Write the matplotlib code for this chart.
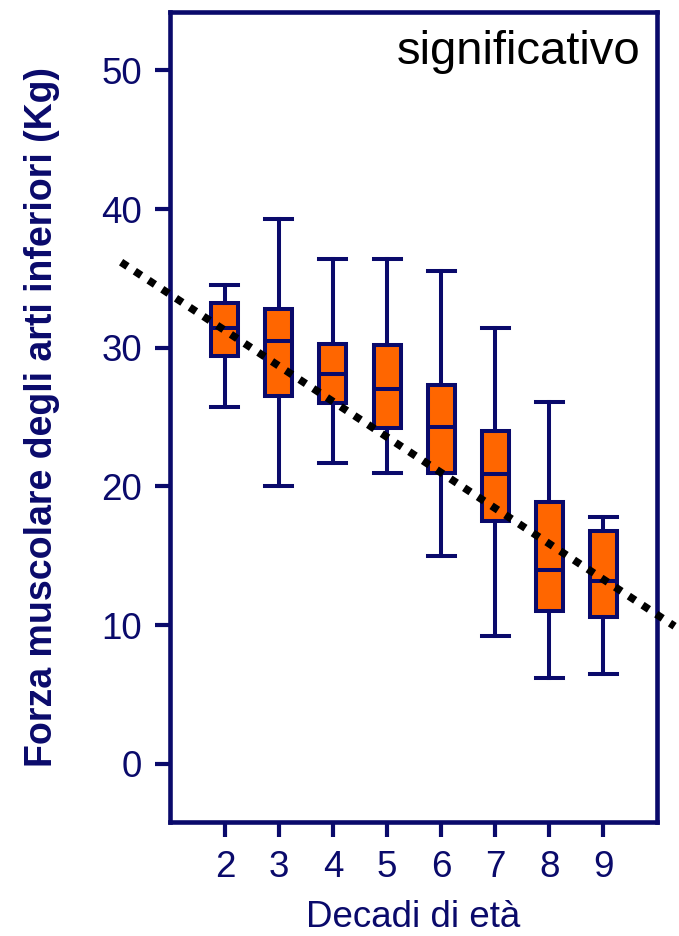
import matplotlib
matplotlib.use("Agg")
import matplotlib.pyplot as plt

plt.rcParams["font.family"] = ["Liberation Sans", "DejaVu Sans"]

navy = "#0a0a6b"
orange = "#ff6600"

decadi = [2, 3, 4, 5, 6, 7, 8, 9]
whis_lo = [25.7, 20.0, 21.7, 21.0, 15.0, 9.2, 6.2, 6.5]
q1 = [29.4, 26.5, 26.0, 24.2, 21.0, 17.5, 11.0, 10.6]
mediana = [31.4, 30.5, 28.1, 27.0, 24.3, 20.9, 14.0, 13.2]
q3 = [33.2, 32.8, 30.3, 30.2, 27.3, 24.0, 18.9, 16.8]
whis_hi = [34.5, 39.3, 36.4, 36.4, 35.5, 31.4, 26.1, 17.8]

trend_x = [0.08, 10.32]
trend_y = [36.17, 9.92]

stats = []
for i in range(len(decadi)):
    stats.append({"whislo": whis_lo[i], "q1": q1[i], "med": mediana[i],
                  "q3": q3[i], "whishi": whis_hi[i], "fliers": []})

fig = plt.figure(figsize=(6.79, 9.36), dpi=100)
ax = fig.add_axes([0.250, 0.1218, 0.718, 0.8652])

lw = 2.9
ax.bxp(stats, positions=decadi, widths=0.5, capwidths=0.5, patch_artist=True,
       showfliers=False,
       boxprops=dict(facecolor=orange, edgecolor=navy, linewidth=lw),
       medianprops=dict(color=navy, linewidth=lw),
       whiskerprops=dict(color=navy, linewidth=lw),
       capprops=dict(color=navy, linewidth=lw))

ax.plot(trend_x, trend_y, color="black", linewidth=5.5,
        linestyle=(0, (1, 1.15)), dash_capstyle="butt", clip_on=False, zorder=5)

ax.set_xlim(0.98, 10.0)
ax.set_ylim(-4.2, 54.2)
ax.set_xticks(decadi)
ax.set_xticklabels([str(d) for d in decadi])
ax.set_yticks([0, 10, 20, 30, 40, 50])

for s in ax.spines.values():
    s.set_color(navy)
    s.set_linewidth(3.3)
ax.tick_params(direction="out", length=11, width=3, color=navy,
               labelcolor=navy, labelsize=26.5)
ax.tick_params(axis="x", pad=9)
ax.tick_params(axis="y", pad=9)

ax.set_xlabel("Decadi di età", color=navy, fontsize=26.5, labelpad=11)
ax.set_ylabel("Forza muscolare degli arti inferiori (Kg)", color=navy,
              fontsize=27, fontweight="bold", labelpad=30)

ax.text(0.965, 0.978, "significativo", transform=ax.transAxes, ha="right",
        va="top", fontsize=34, color="black")

fig.savefig("out.png", dpi=100)
